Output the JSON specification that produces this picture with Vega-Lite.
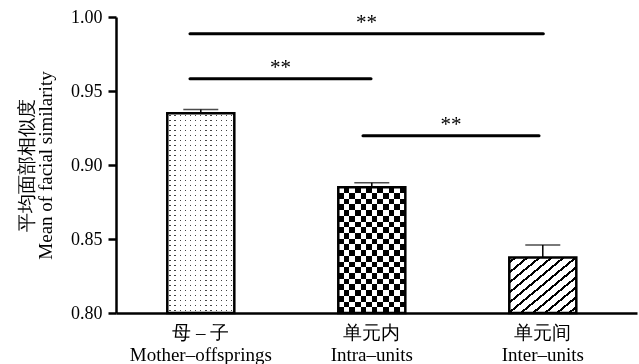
{
  "$schema": "https://vega.github.io/schema/vega-lite/v6.json",
  "width": 521,
  "height": 296,
  "autosize": {"type": "none"},
  "padding": {"left": 116, "top": 17, "right": 2, "bottom": 51},
  "background": "white",
  "config": {"view": {"stroke": null}, "font": "Liberation Serif"},
  "datasets": {
    "bars": [
      {"order": 1, "group": "母 – 子|Mother–offsprings", "mean": 0.935, "upper": 0.9375},
      {"order": 2, "group": "单元内|Intra–units", "mean": 0.885, "upper": 0.888},
      {"order": 3, "group": "单元间|Inter–units", "mean": 0.8375, "upper": 0.846}
    ],
    "sig": [
      {"x1": 0.937, "x2": 3.0, "xm": 1.968, "y": 0.9887, "label": "**"},
      {"x1": 0.937, "x2": 1.994, "xm": 1.466, "y": 0.9583, "label": "**"},
      {"x1": 1.947, "x2": 2.975, "xm": 2.461, "y": 0.9198, "label": "**"}
    ]
  },
  "resolve": {"scale": {"x": "independent"}, "axis": {"x": "independent"}},
  "layer": [
    {
      "data": {"name": "bars"},
      "encoding": {
        "x": {
          "field": "group",
          "type": "nominal",
          "sort": ["母 – 子|Mother–offsprings", "单元内|Intra–units", "单元间|Inter–units"],
          "scale": {"paddingInner": 0.608, "paddingOuter": 0.3274, "align": 0.458},
          "axis": {
            "title": null,
            "labelAngle": 0,
            "labelExpr": "split(datum.label, '|')",
            "labelFont": "Liberation Serif",
            "labelFontSize": 19,
            "labelLineHeight": 22,
            "labelPadding": 10,
            "labelColor": "black",
            "ticks": false,
            "domainColor": "black",
            "domainWidth": 2.5,
            "grid": false
          }
        }
      },
      "layer": [
        {
          "encoding": {
            "y": {
              "field": "mean",
              "type": "quantitative",
              "scale": {"domain": [0.8, 1.0], "zero": false, "nice": false},
              "axis": {
                "title": ["平均面部相似度", "Mean of facial similarity"],
                "titleFont": "Liberation Serif",
                "titleFontSize": 19,
                "titleFontWeight": "normal",
                "titleLineHeight": 19,
                "titleColor": "black",
                "titlePadding": 15,
                "values": [0.8, 0.85, 0.9, 0.95, 1.0],
                "format": ".2f",
                "labelFont": "Liberation Serif",
                "labelFontSize": 18,
                "labelColor": "black",
                "labelPadding": 6,
                "tickSize": 8,
                "tickWidth": 2.5,
                "tickColor": "black",
                "domainColor": "black",
                "domainWidth": 2.5,
                "grid": false
              }
            },
            "y2": {"datum": 0.8}
          },
          "layer": [
            {
              "transform": [{"filter": "datum.order == 1"}],
              "mark": {
                "type": "bar",
                "stroke": null,
                "fill": {
                  "gradient": "linear", "x1": 0, "y1": 0, "x2": 1, "y2": 0,
                  "stops": [
                    {"offset": 0, "color": "#fff"},
                    {"offset": 0.029, "color": "#fff"}, {"offset": 0.029, "color": "#444"}, {"offset": 0.049, "color": "#444"}, {"offset": 0.049, "color": "#fff"},
                    {"offset": 0.106, "color": "#fff"}, {"offset": 0.106, "color": "#444"}, {"offset": 0.126, "color": "#444"}, {"offset": 0.126, "color": "#fff"},
                    {"offset": 0.183, "color": "#fff"}, {"offset": 0.183, "color": "#444"}, {"offset": 0.203, "color": "#444"}, {"offset": 0.203, "color": "#fff"},
                    {"offset": 0.260, "color": "#fff"}, {"offset": 0.260, "color": "#444"}, {"offset": 0.280, "color": "#444"}, {"offset": 0.280, "color": "#fff"},
                    {"offset": 0.337, "color": "#fff"}, {"offset": 0.337, "color": "#444"}, {"offset": 0.357, "color": "#444"}, {"offset": 0.357, "color": "#fff"},
                    {"offset": 0.413, "color": "#fff"}, {"offset": 0.413, "color": "#444"}, {"offset": 0.433, "color": "#444"}, {"offset": 0.433, "color": "#fff"},
                    {"offset": 0.490, "color": "#fff"}, {"offset": 0.490, "color": "#444"}, {"offset": 0.510, "color": "#444"}, {"offset": 0.510, "color": "#fff"},
                    {"offset": 0.567, "color": "#fff"}, {"offset": 0.567, "color": "#444"}, {"offset": 0.587, "color": "#444"}, {"offset": 0.587, "color": "#fff"},
                    {"offset": 0.644, "color": "#fff"}, {"offset": 0.644, "color": "#444"}, {"offset": 0.664, "color": "#444"}, {"offset": 0.664, "color": "#fff"},
                    {"offset": 0.721, "color": "#fff"}, {"offset": 0.721, "color": "#444"}, {"offset": 0.741, "color": "#444"}, {"offset": 0.741, "color": "#fff"},
                    {"offset": 0.798, "color": "#fff"}, {"offset": 0.798, "color": "#444"}, {"offset": 0.818, "color": "#444"}, {"offset": 0.818, "color": "#fff"},
                    {"offset": 0.875, "color": "#fff"}, {"offset": 0.875, "color": "#444"}, {"offset": 0.895, "color": "#444"}, {"offset": 0.895, "color": "#fff"},
                    {"offset": 0.952, "color": "#fff"}, {"offset": 0.952, "color": "#444"}, {"offset": 0.972, "color": "#444"}, {"offset": 0.972, "color": "#fff"},
                    {"offset": 1, "color": "#fff"}
                  ]
                }
              }
            },
            {
              "transform": [{"filter": "datum.order == 1"}],
              "mark": {
                "type": "bar",
                "stroke": null,
                "blend": "screen",
                "fill": {
                  "gradient": "linear", "x1": 0, "y1": 0, "x2": 0, "y2": 1,
                  "stops": [
                    {"offset": 0, "color": "#fff"},
                    {"offset": 0.010, "color": "#fff"}, {"offset": 0.010, "color": "#000"}, {"offset": 0.016, "color": "#000"}, {"offset": 0.016, "color": "#fff"},
                    {"offset": 0.035, "color": "#fff"}, {"offset": 0.035, "color": "#000"}, {"offset": 0.041, "color": "#000"}, {"offset": 0.041, "color": "#fff"},
                    {"offset": 0.060, "color": "#fff"}, {"offset": 0.060, "color": "#000"}, {"offset": 0.066, "color": "#000"}, {"offset": 0.066, "color": "#fff"},
                    {"offset": 0.085, "color": "#fff"}, {"offset": 0.085, "color": "#000"}, {"offset": 0.091, "color": "#000"}, {"offset": 0.091, "color": "#fff"},
                    {"offset": 0.110, "color": "#fff"}, {"offset": 0.110, "color": "#000"}, {"offset": 0.116, "color": "#000"}, {"offset": 0.116, "color": "#fff"},
                    {"offset": 0.135, "color": "#fff"}, {"offset": 0.135, "color": "#000"}, {"offset": 0.141, "color": "#000"}, {"offset": 0.141, "color": "#fff"},
                    {"offset": 0.160, "color": "#fff"}, {"offset": 0.160, "color": "#000"}, {"offset": 0.166, "color": "#000"}, {"offset": 0.166, "color": "#fff"},
                    {"offset": 0.185, "color": "#fff"}, {"offset": 0.185, "color": "#000"}, {"offset": 0.191, "color": "#000"}, {"offset": 0.191, "color": "#fff"},
                    {"offset": 0.210, "color": "#fff"}, {"offset": 0.210, "color": "#000"}, {"offset": 0.216, "color": "#000"}, {"offset": 0.216, "color": "#fff"},
                    {"offset": 0.235, "color": "#fff"}, {"offset": 0.235, "color": "#000"}, {"offset": 0.241, "color": "#000"}, {"offset": 0.241, "color": "#fff"},
                    {"offset": 0.260, "color": "#fff"}, {"offset": 0.260, "color": "#000"}, {"offset": 0.266, "color": "#000"}, {"offset": 0.266, "color": "#fff"},
                    {"offset": 0.285, "color": "#fff"}, {"offset": 0.285, "color": "#000"}, {"offset": 0.291, "color": "#000"}, {"offset": 0.291, "color": "#fff"},
                    {"offset": 0.310, "color": "#fff"}, {"offset": 0.310, "color": "#000"}, {"offset": 0.316, "color": "#000"}, {"offset": 0.316, "color": "#fff"},
                    {"offset": 0.335, "color": "#fff"}, {"offset": 0.335, "color": "#000"}, {"offset": 0.341, "color": "#000"}, {"offset": 0.341, "color": "#fff"},
                    {"offset": 0.360, "color": "#fff"}, {"offset": 0.360, "color": "#000"}, {"offset": 0.366, "color": "#000"}, {"offset": 0.366, "color": "#fff"},
                    {"offset": 0.385, "color": "#fff"}, {"offset": 0.385, "color": "#000"}, {"offset": 0.391, "color": "#000"}, {"offset": 0.391, "color": "#fff"},
                    {"offset": 0.410, "color": "#fff"}, {"offset": 0.410, "color": "#000"}, {"offset": 0.416, "color": "#000"}, {"offset": 0.416, "color": "#fff"},
                    {"offset": 0.435, "color": "#fff"}, {"offset": 0.435, "color": "#000"}, {"offset": 0.441, "color": "#000"}, {"offset": 0.441, "color": "#fff"},
                    {"offset": 0.460, "color": "#fff"}, {"offset": 0.460, "color": "#000"}, {"offset": 0.466, "color": "#000"}, {"offset": 0.466, "color": "#fff"},
                    {"offset": 0.485, "color": "#fff"}, {"offset": 0.485, "color": "#000"}, {"offset": 0.491, "color": "#000"}, {"offset": 0.491, "color": "#fff"},
                    {"offset": 0.510, "color": "#fff"}, {"offset": 0.510, "color": "#000"}, {"offset": 0.516, "color": "#000"}, {"offset": 0.516, "color": "#fff"},
                    {"offset": 0.535, "color": "#fff"}, {"offset": 0.535, "color": "#000"}, {"offset": 0.541, "color": "#000"}, {"offset": 0.541, "color": "#fff"},
                    {"offset": 0.560, "color": "#fff"}, {"offset": 0.560, "color": "#000"}, {"offset": 0.566, "color": "#000"}, {"offset": 0.566, "color": "#fff"},
                    {"offset": 0.585, "color": "#fff"}, {"offset": 0.585, "color": "#000"}, {"offset": 0.591, "color": "#000"}, {"offset": 0.591, "color": "#fff"},
                    {"offset": 0.610, "color": "#fff"}, {"offset": 0.610, "color": "#000"}, {"offset": 0.616, "color": "#000"}, {"offset": 0.616, "color": "#fff"},
                    {"offset": 0.635, "color": "#fff"}, {"offset": 0.635, "color": "#000"}, {"offset": 0.641, "color": "#000"}, {"offset": 0.641, "color": "#fff"},
                    {"offset": 0.660, "color": "#fff"}, {"offset": 0.660, "color": "#000"}, {"offset": 0.666, "color": "#000"}, {"offset": 0.666, "color": "#fff"},
                    {"offset": 0.685, "color": "#fff"}, {"offset": 0.685, "color": "#000"}, {"offset": 0.691, "color": "#000"}, {"offset": 0.691, "color": "#fff"},
                    {"offset": 0.710, "color": "#fff"}, {"offset": 0.710, "color": "#000"}, {"offset": 0.716, "color": "#000"}, {"offset": 0.716, "color": "#fff"},
                    {"offset": 0.735, "color": "#fff"}, {"offset": 0.735, "color": "#000"}, {"offset": 0.741, "color": "#000"}, {"offset": 0.741, "color": "#fff"},
                    {"offset": 0.760, "color": "#fff"}, {"offset": 0.760, "color": "#000"}, {"offset": 0.766, "color": "#000"}, {"offset": 0.766, "color": "#fff"},
                    {"offset": 0.785, "color": "#fff"}, {"offset": 0.785, "color": "#000"}, {"offset": 0.791, "color": "#000"}, {"offset": 0.791, "color": "#fff"},
                    {"offset": 0.810, "color": "#fff"}, {"offset": 0.810, "color": "#000"}, {"offset": 0.816, "color": "#000"}, {"offset": 0.816, "color": "#fff"},
                    {"offset": 0.835, "color": "#fff"}, {"offset": 0.835, "color": "#000"}, {"offset": 0.841, "color": "#000"}, {"offset": 0.841, "color": "#fff"},
                    {"offset": 0.860, "color": "#fff"}, {"offset": 0.860, "color": "#000"}, {"offset": 0.866, "color": "#000"}, {"offset": 0.866, "color": "#fff"},
                    {"offset": 0.885, "color": "#fff"}, {"offset": 0.885, "color": "#000"}, {"offset": 0.891, "color": "#000"}, {"offset": 0.891, "color": "#fff"},
                    {"offset": 0.910, "color": "#fff"}, {"offset": 0.910, "color": "#000"}, {"offset": 0.916, "color": "#000"}, {"offset": 0.916, "color": "#fff"},
                    {"offset": 0.935, "color": "#fff"}, {"offset": 0.935, "color": "#000"}, {"offset": 0.941, "color": "#000"}, {"offset": 0.941, "color": "#fff"},
                    {"offset": 0.960, "color": "#fff"}, {"offset": 0.960, "color": "#000"}, {"offset": 0.966, "color": "#000"}, {"offset": 0.966, "color": "#fff"},
                    {"offset": 0.985, "color": "#fff"}, {"offset": 0.985, "color": "#000"}, {"offset": 0.991, "color": "#000"}, {"offset": 0.991, "color": "#fff"},
                    {"offset": 1, "color": "#fff"}
                  ]
                }
              }
            },
            {
              "transform": [{"filter": "datum.order == 2"}],
              "mark": {
                "type": "bar",
                "stroke": null,
                "fill": {
                  "gradient": "linear", "x1": 0, "y1": 0, "x2": 1, "y2": 0,
                  "stops": [
                    {"offset": 0, "color": "#fff"},
                    {"offset": 0.0833, "color": "#fff"}, {"offset": 0.0833, "color": "#000"}, {"offset": 0.1667, "color": "#000"}, {"offset": 0.1667, "color": "#fff"},
                    {"offset": 0.25, "color": "#fff"}, {"offset": 0.25, "color": "#000"}, {"offset": 0.3333, "color": "#000"}, {"offset": 0.3333, "color": "#fff"},
                    {"offset": 0.4167, "color": "#fff"}, {"offset": 0.4167, "color": "#000"}, {"offset": 0.5, "color": "#000"}, {"offset": 0.5, "color": "#fff"},
                    {"offset": 0.5833, "color": "#fff"}, {"offset": 0.5833, "color": "#000"}, {"offset": 0.6667, "color": "#000"}, {"offset": 0.6667, "color": "#fff"},
                    {"offset": 0.75, "color": "#fff"}, {"offset": 0.75, "color": "#000"}, {"offset": 0.8333, "color": "#000"}, {"offset": 0.8333, "color": "#fff"},
                    {"offset": 0.9167, "color": "#fff"}, {"offset": 0.9167, "color": "#000"}, {"offset": 1, "color": "#000"}
                  ]
                }
              }
            },
            {
              "transform": [{"filter": "datum.order == 2"}],
              "mark": {
                "type": "bar",
                "stroke": null,
                "blend": "difference",
                "fill": {
                  "gradient": "linear", "x1": 0, "y1": 0, "x2": 0, "y2": 1,
                  "stops": [
                    {"offset": 0, "color": "#000"},
                    {"offset": 0.0455, "color": "#000"}, {"offset": 0.0455, "color": "#fff"}, {"offset": 0.0909, "color": "#fff"}, {"offset": 0.0909, "color": "#000"},
                    {"offset": 0.1364, "color": "#000"}, {"offset": 0.1364, "color": "#fff"}, {"offset": 0.1818, "color": "#fff"}, {"offset": 0.1818, "color": "#000"},
                    {"offset": 0.2273, "color": "#000"}, {"offset": 0.2273, "color": "#fff"}, {"offset": 0.2727, "color": "#fff"}, {"offset": 0.2727, "color": "#000"},
                    {"offset": 0.3182, "color": "#000"}, {"offset": 0.3182, "color": "#fff"}, {"offset": 0.3636, "color": "#fff"}, {"offset": 0.3636, "color": "#000"},
                    {"offset": 0.4091, "color": "#000"}, {"offset": 0.4091, "color": "#fff"}, {"offset": 0.4545, "color": "#fff"}, {"offset": 0.4545, "color": "#000"},
                    {"offset": 0.5, "color": "#000"}, {"offset": 0.5, "color": "#fff"}, {"offset": 0.5455, "color": "#fff"}, {"offset": 0.5455, "color": "#000"},
                    {"offset": 0.5909, "color": "#000"}, {"offset": 0.5909, "color": "#fff"}, {"offset": 0.6364, "color": "#fff"}, {"offset": 0.6364, "color": "#000"},
                    {"offset": 0.6818, "color": "#000"}, {"offset": 0.6818, "color": "#fff"}, {"offset": 0.7273, "color": "#fff"}, {"offset": 0.7273, "color": "#000"},
                    {"offset": 0.7727, "color": "#000"}, {"offset": 0.7727, "color": "#fff"}, {"offset": 0.8182, "color": "#fff"}, {"offset": 0.8182, "color": "#000"},
                    {"offset": 0.8636, "color": "#000"}, {"offset": 0.8636, "color": "#fff"}, {"offset": 0.9091, "color": "#fff"}, {"offset": 0.9091, "color": "#000"},
                    {"offset": 0.9545, "color": "#000"}, {"offset": 0.9545, "color": "#fff"}, {"offset": 1, "color": "#fff"}
                  ]
                }
              }
            },
            {
              "transform": [{"filter": "datum.order == 3"}],
              "mark": {
                "type": "bar",
                "stroke": null,
                "fill": {
                  "gradient": "linear", "x1": 0, "y1": 0, "x2": 1, "y2": 1,
                  "stops": [
                    {"offset": 0, "color": "#fff"},
                    {"offset": 0.034, "color": "#fff"}, {"offset": 0.034, "color": "#000"}, {"offset": 0.058, "color": "#000"}, {"offset": 0.058, "color": "#fff"},
                    {"offset": 0.124, "color": "#fff"}, {"offset": 0.124, "color": "#000"}, {"offset": 0.148, "color": "#000"}, {"offset": 0.148, "color": "#fff"},
                    {"offset": 0.214, "color": "#fff"}, {"offset": 0.214, "color": "#000"}, {"offset": 0.238, "color": "#000"}, {"offset": 0.238, "color": "#fff"},
                    {"offset": 0.304, "color": "#fff"}, {"offset": 0.304, "color": "#000"}, {"offset": 0.328, "color": "#000"}, {"offset": 0.328, "color": "#fff"},
                    {"offset": 0.394, "color": "#fff"}, {"offset": 0.394, "color": "#000"}, {"offset": 0.418, "color": "#000"}, {"offset": 0.418, "color": "#fff"},
                    {"offset": 0.484, "color": "#fff"}, {"offset": 0.484, "color": "#000"}, {"offset": 0.508, "color": "#000"}, {"offset": 0.508, "color": "#fff"},
                    {"offset": 0.574, "color": "#fff"}, {"offset": 0.574, "color": "#000"}, {"offset": 0.598, "color": "#000"}, {"offset": 0.598, "color": "#fff"},
                    {"offset": 0.664, "color": "#fff"}, {"offset": 0.664, "color": "#000"}, {"offset": 0.688, "color": "#000"}, {"offset": 0.688, "color": "#fff"},
                    {"offset": 0.754, "color": "#fff"}, {"offset": 0.754, "color": "#000"}, {"offset": 0.778, "color": "#000"}, {"offset": 0.778, "color": "#fff"},
                    {"offset": 0.844, "color": "#fff"}, {"offset": 0.844, "color": "#000"}, {"offset": 0.868, "color": "#000"}, {"offset": 0.868, "color": "#fff"},
                    {"offset": 0.934, "color": "#fff"}, {"offset": 0.934, "color": "#000"}, {"offset": 0.958, "color": "#000"}, {"offset": 0.958, "color": "#fff"},
                    {"offset": 1, "color": "#fff"}
                  ]
                }
              }
            },
            {
              "mark": {"type": "bar", "fill": "transparent", "stroke": "black", "strokeWidth": 2.5, "strokeJoin": "miter"}
            }
          ]
        },
        {
          "mark": {"type": "rule", "color": "black", "strokeWidth": 1.5},
          "encoding": {"y": {"field": "mean", "type": "quantitative"}, "y2": {"field": "upper"}}
        },
        {
          "mark": {"type": "tick", "orient": "horizontal", "color": "black", "size": 35, "thickness": 1.5},
          "encoding": {"y": {"field": "upper", "type": "quantitative"}}
        }
      ]
    },
    {
      "data": {"name": "sig"},
      "layer": [
        {
          "mark": {"type": "rule", "color": "black", "strokeWidth": 3, "strokeCap": "round"},
          "encoding": {
            "x": {"field": "x1", "type": "quantitative", "scale": {"domain": [0.505, 3.547], "nice": false, "zero": false}, "axis": null},
            "x2": {"field": "x2"},
            "y": {"field": "y", "type": "quantitative"}
          }
        },
        {
          "mark": {"type": "text", "font": "Liberation Serif", "fontSize": 21, "color": "black", "baseline": "alphabetic", "dy": -5},
          "encoding": {
            "x": {"field": "xm", "type": "quantitative"},
            "y": {"field": "y", "type": "quantitative"},
            "text": {"field": "label"}
          }
        }
      ]
    }
  ]
}
